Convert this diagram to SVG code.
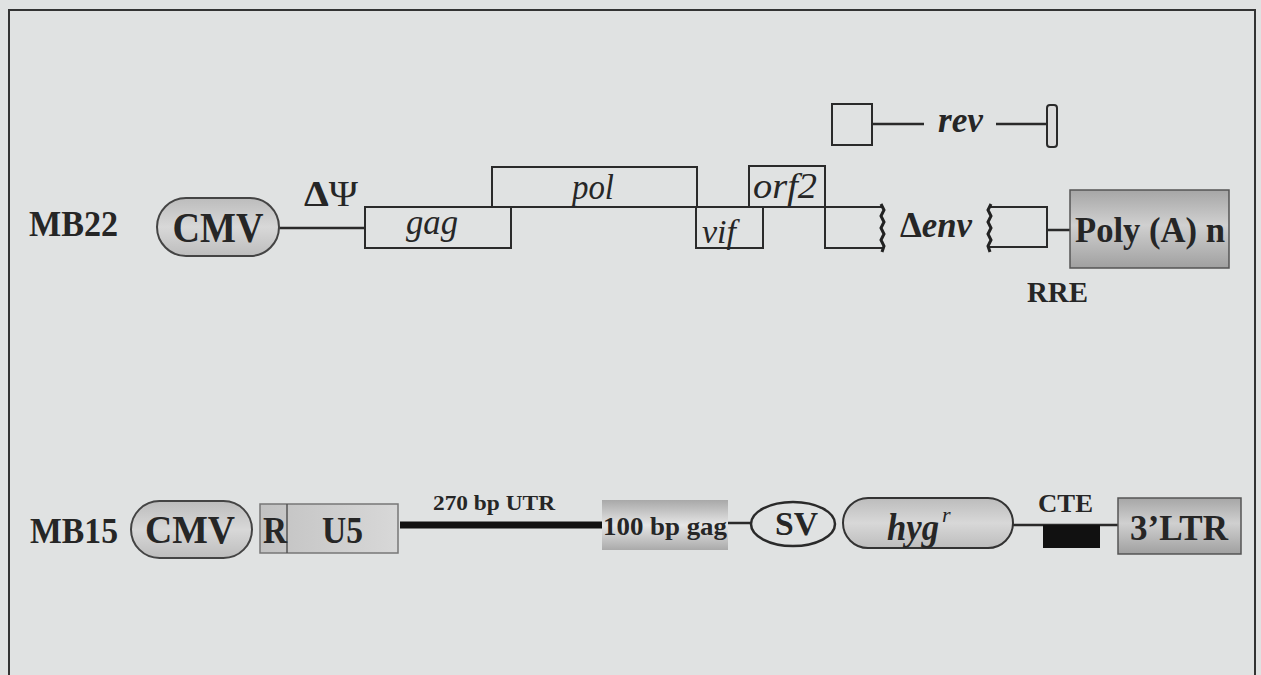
<svg xmlns="http://www.w3.org/2000/svg" width="1261" height="675" viewBox="0 0 1261 675">
<style>
text{font-family:"Liberation Serif","Times New Roman",serif;fill:#262626}
.b{font-weight:bold}
.i{font-style:italic}
.box{fill:none;stroke:#2a2a2a;stroke-width:2}
.ln{stroke:#2a2a2a;stroke-width:2.5;fill:none}
.m{text-anchor:middle}
</style>
<defs>
<linearGradient id="gPill" x1="0" y1="0" x2="0" y2="1">
<stop offset="0" stop-color="#bcbcbc"/><stop offset="0.5" stop-color="#d8d8d8"/><stop offset="1" stop-color="#bdbdbd"/>
</linearGradient>
<linearGradient id="gBox" x1="0" y1="0" x2="0" y2="1">
<stop offset="0" stop-color="#a6a6a6"/><stop offset="0.45" stop-color="#d0d0d0"/><stop offset="1" stop-color="#a0a0a0"/>
</linearGradient>
<linearGradient id="gGag" x1="0" y1="0" x2="0" y2="1">
<stop offset="0" stop-color="#a8a8a8"/><stop offset="0.5" stop-color="#e6e6e6"/><stop offset="1" stop-color="#aaaaaa"/>
</linearGradient>
<linearGradient id="gRU" x1="0" y1="0" x2="1" y2="0">
<stop offset="0" stop-color="#c2c2c2"/><stop offset="1" stop-color="#d8d8d8"/>
</linearGradient>
</defs>
<rect width="1261" height="675" fill="#e0e2e2"/>
<rect x="9" y="10" width="1246" height="700" fill="none" stroke="#333" stroke-width="2"/>

<g id="connectors">
<line class="ln" x1="278" y1="228" x2="365" y2="228"/>
<line class="box" x1="365" y1="207" x2="883" y2="207"/>
<line class="ln" x1="1047" y1="230" x2="1070" y2="230"/>
<line class="ln" x1="872" y1="124" x2="924" y2="124"/>
<line class="ln" x1="996" y1="124" x2="1048" y2="124"/>
<line x1="400" y1="525" x2="602" y2="525" stroke="#111" stroke-width="7"/>
<line class="ln" x1="728" y1="523" x2="752" y2="523"/>
<line class="ln" x1="1013" y1="525" x2="1118" y2="525"/>
</g>

<g id="mb22-label"><text class="b" x="29" y="236" font-size="36" textLength="89" lengthAdjust="spacingAndGlyphs">MB22</text></g>
<g id="cmv1">
<rect x="157" y="198" width="122" height="58" rx="29" fill="url(#gPill)" stroke="#444" stroke-width="2"/>
<text class="b m" x="218" y="242" font-size="43" textLength="91" lengthAdjust="spacingAndGlyphs">CMV</text>
</g>
<g id="psi"><text x="304" y="206" font-size="36" textLength="54" lengthAdjust="spacingAndGlyphs"><tspan class="b">Δ</tspan>Ψ</text></g>
<g id="gag">
<rect class="box" x="365" y="207" width="146" height="41"/>
<text class="i m" x="432" y="234" font-size="36" textLength="52" lengthAdjust="spacingAndGlyphs">gag</text>
</g>
<g id="pol">
<rect class="box" x="492" y="167" width="205" height="40"/>
<text class="i m" x="593" y="199" font-size="36" textLength="42" lengthAdjust="spacingAndGlyphs">pol</text>
</g>
<g id="vif">
<rect class="box" x="696" y="207" width="67" height="41"/>
<text class="i" x="702" y="243" font-size="34">vif</text>
</g>
<g id="orf2">
<rect class="box" x="749" y="166" width="76" height="41"/>
<text class="i" x="753" y="198" font-size="36" textLength="64" lengthAdjust="spacingAndGlyphs">orf2</text>
</g>
<g id="env1">
<path class="box" d="M883,207 H825 V248 H883"/>
<path d="M881,204 l3,6 l-3,6 l3,6 l-3,6 l3,6 l-3,6 l3,6 l-2,6" fill="none" stroke="#222" stroke-width="3"/>
</g>
<g id="denv"><text class="b" x="900" y="237" font-size="35" textLength="72" lengthAdjust="spacingAndGlyphs">Δ<tspan class="i">env</tspan></text></g>
<g id="env2">
<path class="box" d="M989,207 H1047 V247 H989"/>
<path d="M991,204 l-3,6 l3,6 l-3,6 l3,6 l-3,6 l3,6 l-3,6 l2,6" fill="none" stroke="#222" stroke-width="3"/>
</g>
<g id="polya">
<rect x="1070" y="190" width="159" height="78" fill="url(#gBox)" stroke="#555" stroke-width="1.5"/>
<text class="b" x="1075" y="242" font-size="36" textLength="150" lengthAdjust="spacingAndGlyphs">Poly (A) n</text>
</g>
<g id="rre"><text class="b" x="1027" y="302" font-size="29" textLength="61" lengthAdjust="spacingAndGlyphs">RRE</text></g>
<g id="rev">
<rect class="box" x="832" y="104" width="40" height="41"/>
<text class="b i" x="938" y="132" font-size="36" textLength="45" lengthAdjust="spacingAndGlyphs">rev</text>
<rect x="1047" y="105" width="10" height="42" rx="3" fill="#dcdcdc" stroke="#2a2a2a" stroke-width="2"/>
</g>

<g id="mb15-label"><text class="b" x="30" y="543" font-size="35" textLength="88" lengthAdjust="spacingAndGlyphs">MB15</text></g>
<g id="cmv2">
<rect x="131" y="501" width="121" height="57" rx="28.5" fill="url(#gPill)" stroke="#444" stroke-width="2"/>
<text class="b m" x="190" y="543" font-size="40" textLength="90" lengthAdjust="spacingAndGlyphs">CMV</text>
</g>
<g id="ru5">
<rect x="260" y="504" width="138" height="49" fill="url(#gRU)" stroke="#777" stroke-width="1.5"/>
<line x1="287" y1="504" x2="287" y2="553" stroke="#555" stroke-width="1.5"/>
<text class="b" x="263" y="543" font-size="38" textLength="24" lengthAdjust="spacingAndGlyphs">R</text>
<text class="b" x="322" y="543" font-size="38" textLength="41" lengthAdjust="spacingAndGlyphs">U5</text>
</g>
<g id="utr"><text class="b" x="433" y="510" font-size="22" textLength="122" lengthAdjust="spacingAndGlyphs">270 bp UTR</text></g>
<g id="gag100">
<rect x="602" y="500" width="126" height="50" fill="url(#gGag)"/>
<text class="b" x="603" y="535" font-size="26" textLength="124" lengthAdjust="spacingAndGlyphs">100 bp gag</text>
</g>
<g id="sv">
<ellipse cx="793" cy="524" rx="42" ry="22" fill="none" stroke="#2a2a2a" stroke-width="2.5"/>
<text class="b" x="775" y="535" font-size="33" textLength="43" lengthAdjust="spacingAndGlyphs">SV</text>
</g>
<g id="hyg">
<rect x="843" y="498" width="170" height="50" rx="25" fill="url(#gPill)" stroke="#333" stroke-width="2"/>
<text class="b i" x="887" y="540" font-size="38" textLength="52" lengthAdjust="spacingAndGlyphs">hyg</text>
<text class="i" x="942" y="522" font-size="22">r</text>
</g>
<g id="cte">
<rect x="1043" y="525" width="57" height="23" fill="#111"/>
<text class="b" x="1038" y="512" font-size="26" textLength="55" lengthAdjust="spacingAndGlyphs">CTE</text>
</g>
<g id="ltr3">
<rect x="1118" y="498" width="123" height="56" fill="url(#gBox)" stroke="#555" stroke-width="1.5"/>
<text class="b" x="1130" y="540" font-size="35" textLength="98" lengthAdjust="spacingAndGlyphs">3’LTR</text>
</g>
</svg>
